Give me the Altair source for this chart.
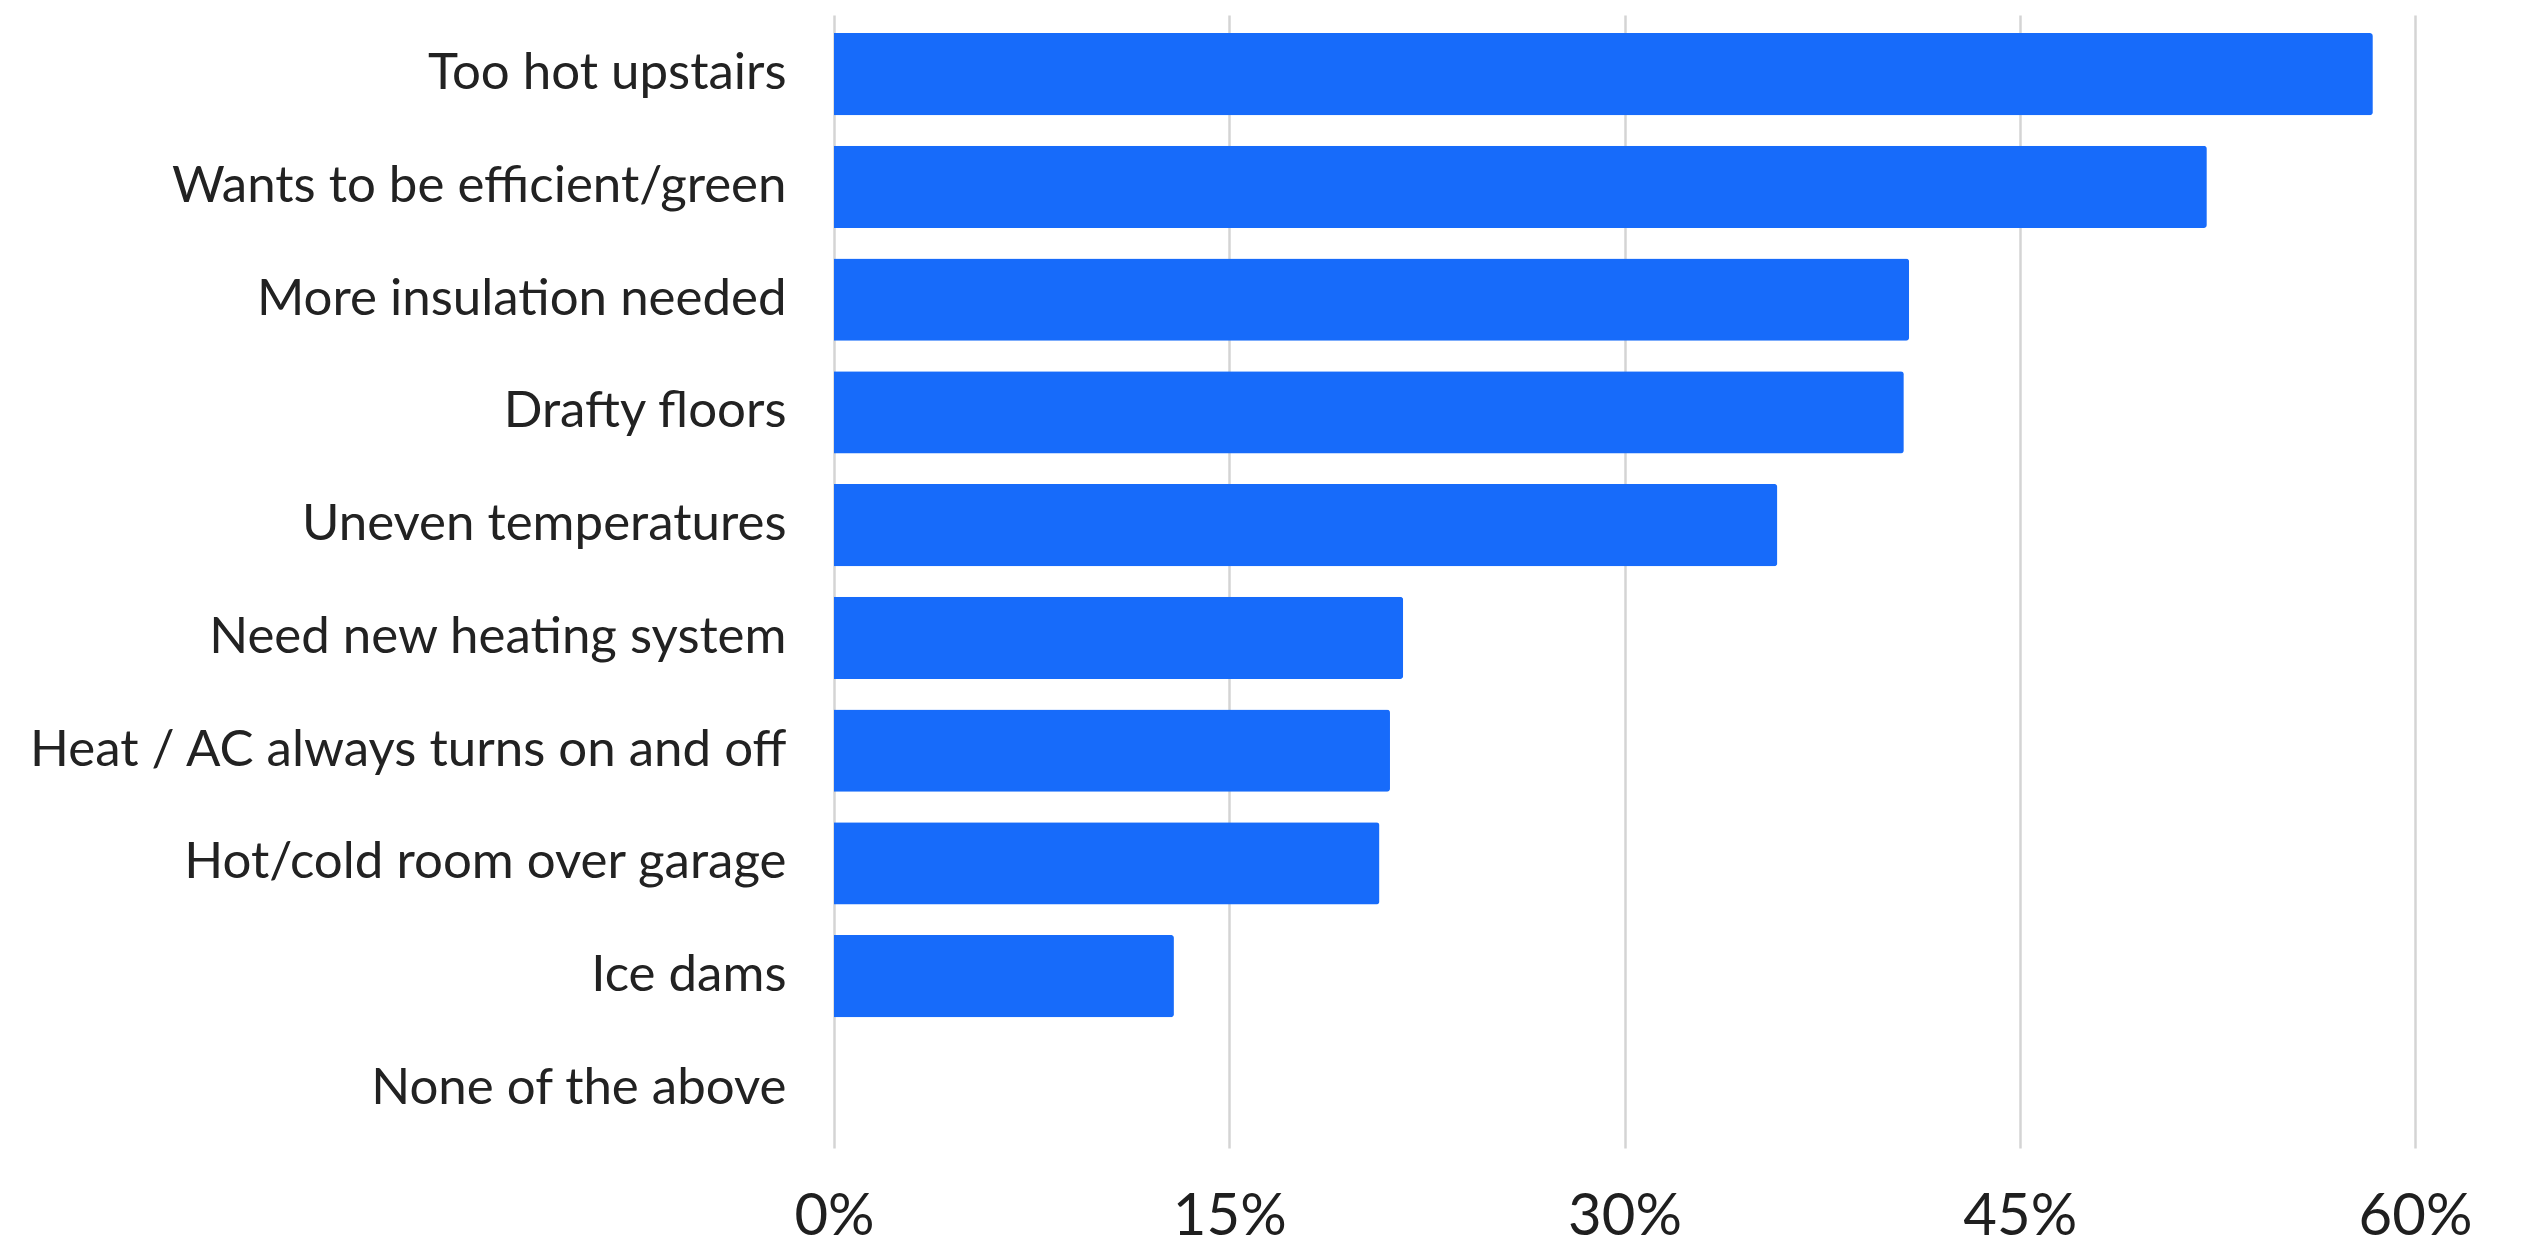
import altair as alt
import pandas as pd

categories = [
    "Too hot upstairs",
    "Wants to be efficient/green",
    "More insulation needed",
    "Drafty floors",
    "Uneven temperatures",
    "Need new heating system",
    "Heat / AC always turns on and off",
    "Hot/cold room over garage",
    "Ice dams",
    "None of the above",
]
values = [58.4, 52.1, 40.8, 40.6, 35.8, 21.6, 21.1, 20.7, 12.9, 0.0]
tick_values = [0, 15, 30, 45, 60]

df = pd.DataFrame({"reason": categories, "pct": values})

chart = (
    alt.Chart(df)
    .mark_bar(color="#176BFA", cornerRadiusEnd=3)
    .encode(
        x=alt.X(
            "pct:Q",
            scale=alt.Scale(domain=[0, 60], nice=False),
            axis=alt.Axis(
                values=tick_values,
                labelExpr="datum.value + '%'",
                title=None,
                domain=False,
                ticks=False,
                grid=True,
                gridColor="#d4d4d4",
                gridWidth=2.5,
                labelFont="Lato",
                labelFontSize=58,
                labelColor="#1f1f1f",
                labelBaseline="alphabetic",
                labelPadding=86,
                labelFlush=False,
            ),
        ),
        y=alt.Y(
            "reason:N",
            sort=categories,
            scale=alt.Scale(paddingInner=0.27, paddingOuter=0.16),
            axis=alt.Axis(
                title=None,
                domain=False,
                ticks=False,
                labelFont="Lato",
                labelFontSize=51,
                labelColor="#222222",
                labelPadding=48,
                labelLimit=900,
            ),
        ),
    )
    .properties(
        width=1581,
        height=1133,
        autosize=alt.AutoSizeParams(type="none"),
        padding={"left": 826, "top": 7, "right": 100, "bottom": 102},
    )
    .configure_view(stroke=None)
)

chart.save("out.html", embed_options={"renderer": "svg", "actions": False})
